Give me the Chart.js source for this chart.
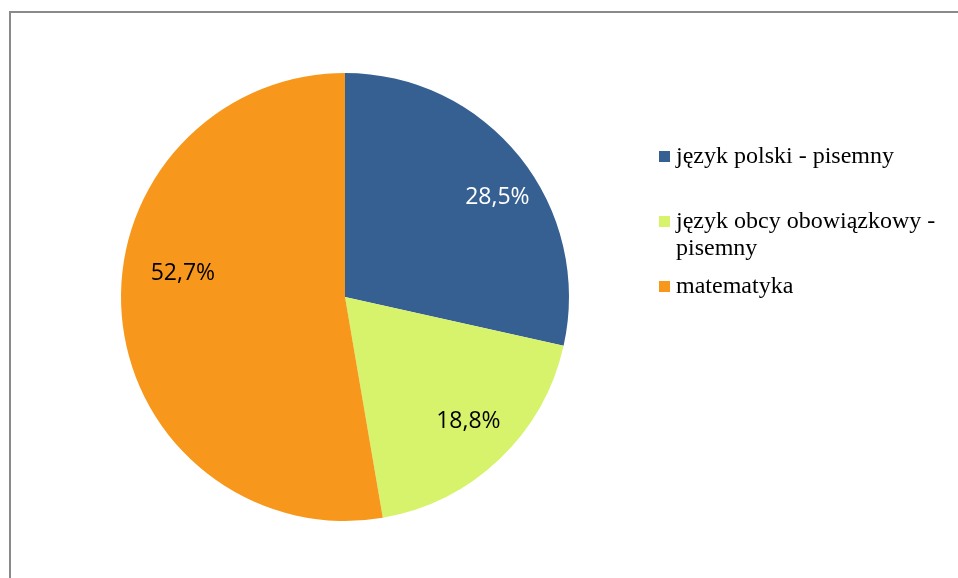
<!DOCTYPE html>
<html>
<head>
<meta charset="utf-8">
<script src="https://cdn.jsdelivr.net/npm/chart.js@4"></script>
<style>
  html, body { margin: 0; padding: 0; background: #fff; }
  #wrap { position: relative; width: 958px; height: 578px; overflow: hidden; }
  #ramka { position: absolute; left: 9px; top: 11px; width: 1000px; height: 700px;
           border-left: 2px solid #8a8a8a; border-top: 2px solid #8a8a8a; }
  canvas { position: absolute; left: 0; top: 0; }
</style>
</head>
<body>
<div id="wrap">
  <div id="ramka"></div>
  <canvas id="wykres" width="958" height="578"></canvas>
</div>
<script>
const kategorie = ['język polski - pisemny', 'język obcy obowiązkowy - pisemny', 'matematyka'];
const legendaLinie = [['język polski - pisemny'], ['język obcy obowiązkowy -', 'pisemny'], ['matematyka']];
const wartosci = [28.5, 18.8, 52.7];
const kolory = ['#376092', '#d7f26b', '#f7981d'];
const koloryEtykiet = ['#ffffff', '#000000', '#000000'];

// przesunięcia etykiet wzgledem srodka łuku (jak w Excelu)
const przesuniecia = [[16, 10], [3, -2], [12, -38]];

const etykietyPlugin = {
    id: 'etykiety',
    afterDatasetsDraw(chart) {
        const ctx = chart.ctx;
        const meta = chart.getDatasetMeta(0);
        ctx.save();
        ctx.font = '23px "Open Sans"';
        ctx.textAlign = 'center';
        ctx.textBaseline = 'middle';
        meta.data.forEach((arc, i) => {
            const p = arc.getProps(['x', 'y', 'startAngle', 'endAngle', 'outerRadius'], true);
            const kat = (p.startAngle + p.endAngle) / 2;
            const r = p.outerRadius * 0.78;
            const x = p.x + Math.cos(kat) * r + przesuniecia[i][0];
            const y = p.y + Math.sin(kat) * r + przesuniecia[i][1];
            ctx.fillStyle = koloryEtykiet[i];
            ctx.fillText(wartosci[i].toFixed(1).replace('.', ',') + '%', x, y);
        });
        ctx.restore();
    }
};

const legendaPlugin = {
    id: 'legenda',
    afterDraw(chart) {
        const ctx = chart.ctx;
        const kwadratY = [151, 216, 281];
        ctx.save();
        ctx.font = '24px "Liberation Serif"';
        ctx.textAlign = 'left';
        ctx.textBaseline = 'alphabetic';
        kategorie.forEach((k, i) => {
            ctx.fillStyle = kolory[i];
            ctx.fillRect(659, kwadratY[i], 11, 11);
            ctx.fillStyle = '#000';
            legendaLinie[i].forEach((linia, j) => {
                ctx.fillText(linia, 676, kwadratY[i] + 12 + j * 27);
            });
        });
        ctx.restore();
    }
};

new Chart(document.getElementById('wykres').getContext('2d'), {
    type: 'pie',
    data: {
        labels: kategorie,
        datasets: [{
            data: wartosci,
            backgroundColor: kolory,
            borderWidth: 0
        }]
    },
    options: {
        responsive: false,
        animation: false,
        layout: { padding: { left: 121, right: 389, top: 73, bottom: 57 } },
        plugins: {
            legend: { display: false },
            tooltip: { enabled: false }
        }
    },
    plugins: [etykietyPlugin, legendaPlugin]
});
</script>
</body>
</html>
